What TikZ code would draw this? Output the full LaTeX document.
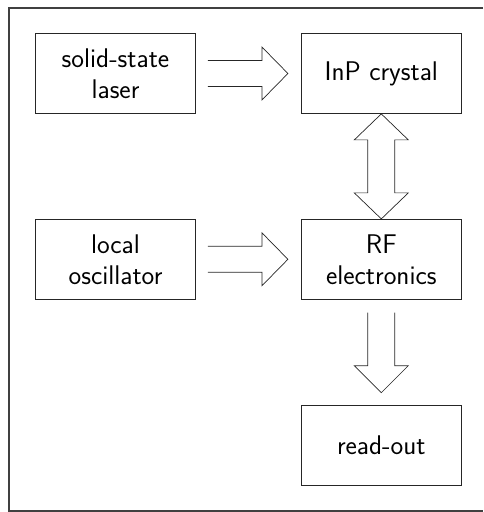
\documentclass[tikz,border=0pt]{standalone}
\usepackage{fontspec}
\usetikzlibrary{calc,positioning}
\tikzset{
  block/.style={draw=black!85, line width=0.8pt, minimum width=160pt, minimum height=80pt,
    inner sep=0pt, align=center, font=\sffamily\fontsize{27}{31}\selectfont},
  fatarrow/.style={draw=black!85, line width=0.7pt, line join=miter},
}

\begin{document}
\begin{tikzpicture}[x=1pt, y=1pt]
			%%%%% START %%%%%
			\useasboundingbox (0, 0) rectangle (483, 512);
			\draw[line width=1.3pt, color=black!75] (483, 504) -- (9, 504) -- (9, 1) -- (483, 1);
			
			\node[block] (laser) at (115.5, 438.5) {solid-state\\laser};
			\node[block, right=105pt of laser] (crystal) {InP crystal};
			\node[block, below=105pt of crystal] (rf) {RF\\electronics};
			\node[block, left=105pt of rf] (osc) {local\\oscillator};
			\node[block, below=105pt of rf] (readout) {read-out};
			
			% laser -> crystal
			\draw[fatarrow] ($(laser.east)+(12, 13)$) -- ++(54, 0) -- ++(0, 13.5) -- ++(26, -26.5)
				-- ++(-26, -26.5) -- ++(0, 13.5) -- ++(-54, 0);
			% oscillator -> rf
			\draw[fatarrow] ($(osc.east)+(12, 13)$) -- ++(54, 0) -- ++(0, 13.5) -- ++(26, -26.5)
				-- ++(-26, -26.5) -- ++(0, 13.5) -- ++(-54, 0);
			% crystal <-> rf
			\draw[fatarrow] (crystal.south) -- ++(27, -26) -- ++(-13.5, 0) -- ++(0, -53) -- ++(13.5, 0)
				-- (rf.north) -- ++(-27, 26) -- ++(13.5, 0) -- ++(0, 53) -- ++(-13.5, 0) -- cycle;
			% rf -> read-out
			\draw[fatarrow] ($(rf.south)+(-13.5, -13)$) -- ++(0, -53) -- ++(-13.5, 0) -- ++(27, -27)
				-- ++(27, 27) -- ++(-13.5, 0) -- ++(0, 53);
			
			%%%%% END %%%%%
\end{tikzpicture}
\end{document}
